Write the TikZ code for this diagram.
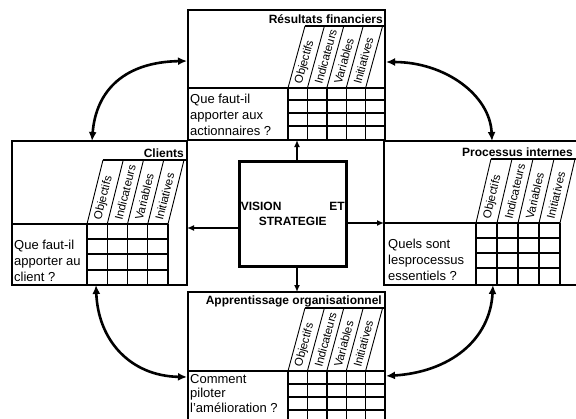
\documentclass[tikz,border=0pt]{standalone}
\usepackage{fontspec}
\setmainfont{Liberation Sans}
\usetikzlibrary{arrows.meta}
% header: #1 grid left x, #2 column width, #3 header top y, #4 grid top y, #5 slant dx, #6 header line end x, #7 name prefix
\newcommand\bschead[7]{%
  \pgfmathsetmacro\bsang{atan((#4-#3)/#5)}%
  \foreach \k in {0,...,4} \draw[slantline] ({#1+#2*\k},#4) -- ({#1+#2*\k+#5},#3);
  \draw[boxline] ({#1+#5},#3) -- (#6,#3);
  \foreach \w [count=\k from 0] in {Objectifs,Indicateurs,Variables,Initiatives}
    \node[hdr,rotate=\bsang] (#7\k) at ({#1+#2*\k+#2/2+#5*4/(#4-#3)},{#4-4}) {\w};
}
\begin{document}
\begin{tikzpicture}[x=1pt,y=-1pt,
  boxline/.style={line width=1.6pt},
  gridline/.style={line width=1.4pt},
  slantline/.style={line width=0.9pt},
  hdr/.style={font=\fontsize{11.5}{13}\selectfont, inner sep=0pt, anchor=west},
  ttl/.style={font=\fontsize{12}{14}\selectfont\bfseries, inner sep=0pt, anchor=base east},
  qtext/.style={font=\fontsize{13}{16}\selectfont, inner sep=0pt, align=left, anchor=base west},
  qtextb/.style={font=\fontsize{13}{14.5}\selectfont, inner sep=0pt, align=left, anchor=base west},
  visbox/.style={draw, line width=3pt, minimum width=107.5pt, minimum height=105pt, inner sep=0pt,
    text width=104pt, align=center, font=\fontsize{12}{15}\selectfont\bfseries},
  ctrarrow/.style={line width=1.8pt, -{Latex[length=7pt,width=6pt]}},
  bigarrow/.style={line width=2.6pt, {Latex[length=9pt,width=8pt]}-{Latex[length=9pt,width=8pt]}}
]
\useasboundingbox (0,0) rectangle (576,418);
\clip (0,0) rectangle (576,418);
\fill[white] (0,0) rectangle (576,418);

% ---------- top box: Résultats financiers ----------
\draw[boxline] (188,10) rectangle (385,140);
\draw[boxline] (188,88) -- (385,88);
\foreach \y in {100,113,126} \draw[gridline] (288,\y) -- (385,\y);
\foreach \k in {0,...,4} \draw[gridline] ({288+19.4*\k},88) -- ({288+19.4*\k},140);
\bschead{288}{19.4}{26}{88}{17}{385}{hT}
\node[ttl] (tT) at (383,23) {Résultats financiers};
\node[qtext] (qT) at (190,135) {Que faut-il\\apporter aux\\actionnaires ?};

% ---------- left box: Clients ----------
\draw[boxline] (12,141) rectangle (187,285);
\draw[boxline] (12,224) -- (168,224);
\foreach \y in {239,254,270} \draw[gridline] (87,\y) -- (168,\y);
\foreach \k in {0,...,4} \draw[gridline] ({87+20.25*\k},224) -- ({87+20.25*\k},285);
\bschead{87}{20.25}{160}{224}{16}{187}{hC}
\node[ttl] (tC) at (184,157) {Clients};
\node[qtext] (qC) at (14,281) {Que faut-il\\apporter au\\client ?};

% ---------- right box: Processus internes ----------
\draw[boxline] (580,141) -- (384,141) -- (384,285) -- (580,285);
\draw[boxline] (384,223) -- (560,223);
\foreach \y in {238,253,268} \draw[gridline] (476,\y) -- (560,\y);
\foreach \k in {0,...,4} \draw[gridline] ({476+21*\k},223) -- ({476+21*\k},285);
\bschead{476}{21}{159}{223}{15}{580}{hP}
\node[ttl] (tP) at (573,156) {Processus internes};
\node[qtext] (qP) at (388,280) {Quels sont\\lesprocessus\\essentiels ?};

% ---------- bottom box: Apprentissage organisationnel ----------
\draw[boxline] (188,425) -- (188,292) -- (385,292) -- (385,425);
\draw[boxline] (188,371) -- (385,371);
\foreach \y in {384,397,410} \draw[gridline] (288,\y) -- (385,\y);
\foreach \k in {0,...,4} \draw[gridline] ({288+19.4*\k},371) -- ({288+19.4*\k},425);
\bschead{288}{19.4}{308}{371}{17}{385}{hB}
\node[ttl] (tB) at (382,304) {Apprentissage organisationnel};
\node[qtextb] (qB) at (190,412) {Comment\\piloter\\l'amélioration ?};

% ---------- centre ----------
\node[visbox] (vision) at (292.75,214) {VISION\hfill ET\\STRATEGIE};
\coordinate (upE) at (297,140);
\coordinate (dnE) at (297,292);
\coordinate (lfE) at (187,228);
\coordinate (rtE) at (384,223);
\draw[ctrarrow] (vision.north -| upE) -- (upE);
\draw[ctrarrow] (vision.south -| dnE) -- (dnE);
\draw[ctrarrow] (vision.west |- lfE) -- (lfE);
\draw[ctrarrow] (vision.east |- rtE) -- (rtE);

% ---------- curved links ----------
\coordinate (a1) at (92,141);  \coordinate (a2) at (187,61);
\coordinate (b1) at (386,62);  \coordinate (b2) at (492,141);
\coordinate (c1) at (96,285);  \coordinate (c2) at (187,377);
\coordinate (d1) at (493,285); \coordinate (d2) at (386,376);
\draw[bigarrow] (a1) .. controls (96,90) and (125,62) .. (a2);
\draw[bigarrow] (b1) .. controls (445,62) and (490,95) .. (b2);
\draw[bigarrow] (c1) .. controls (98,340) and (130,376) .. (c2);
\draw[bigarrow] (d1) .. controls (490,340) and (450,372) .. (d2);
\end{tikzpicture}
\end{document}
